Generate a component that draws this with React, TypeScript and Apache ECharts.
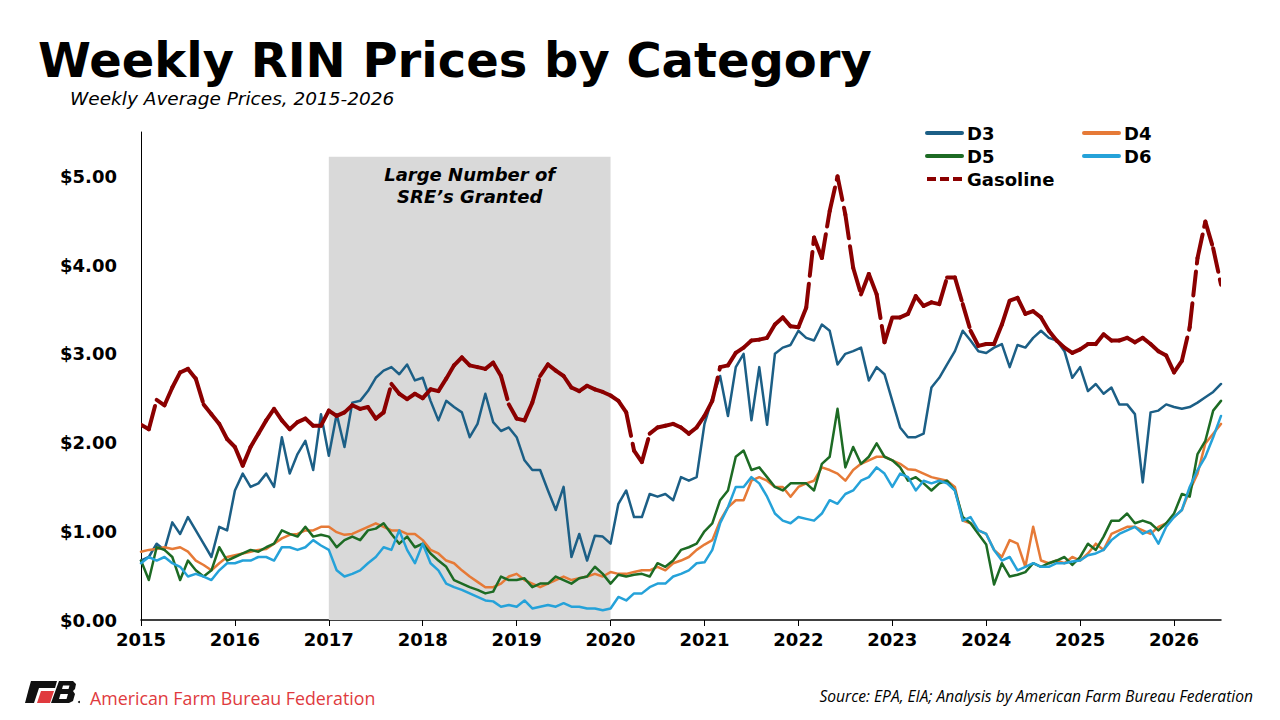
import React, { useEffect, useRef } from "react";
import * as echarts from "echarts";

// Monthly readings, Jan 2015 (index 0) through end of Jun 2026 (index 138)
const START_YEAR = 2015;
const YEARS = [2015, 2016, 2017, 2018, 2019, 2020, 2021, 2022, 2023, 2024, 2025, 2026];
const Y_TICKS = [0, 1, 2, 3, 4, 5];

const d3 = [
  0.67, 0.71, 0.86, 0.79, 1.1, 0.97, 1.16, 1.01, 0.86, 0.71, 1.05, 1.01,
  1.46, 1.65, 1.5, 1.54, 1.65, 1.5, 2.06, 1.65, 1.87, 2.02, 1.69, 2.32,
  1.85, 2.32, 1.95, 2.45, 2.47, 2.58, 2.73, 2.81, 2.85, 2.77, 2.88, 2.7,
  2.73, 2.47, 2.25, 2.47, 2.4, 2.34, 2.06, 2.21, 2.55, 2.23, 2.13, 2.17,
  2.06, 1.8, 1.69, 1.69, 1.46, 1.24, 1.5, 0.71, 0.97, 0.67, 0.95, 0.94,
  0.86, 1.31, 1.46, 1.16, 1.16, 1.42, 1.39, 1.42, 1.35, 1.61, 1.57, 1.61,
  2.21, 2.5, 2.75, 2.3, 2.85, 3.0, 2.25, 2.85, 2.2, 3.0, 3.07, 3.1,
  3.26, 3.18, 3.15, 3.33, 3.26, 2.88, 3.0, 3.03, 3.07, 2.7, 2.85, 2.77,
  2.47, 2.17, 2.06, 2.06, 2.1, 2.62, 2.73, 2.88, 3.03, 3.26, 3.15, 3.03,
  3.01, 3.07, 3.11, 2.85, 3.1, 3.07, 3.18, 3.26, 3.18, 3.15, 3.03, 2.73,
  2.85, 2.58, 2.66, 2.55, 2.62, 2.43, 2.43, 2.32, 1.55, 2.34, 2.36, 2.43,
  2.4, 2.38, 2.4, 2.45, 2.51, 2.57, 2.66,
];

const d4 = [
  0.77, 0.79, 0.8, 0.82, 0.8, 0.82, 0.77, 0.67, 0.62, 0.56, 0.64, 0.71,
  0.73, 0.75, 0.77, 0.79, 0.8, 0.86, 0.92, 0.96, 0.97, 1.01, 1.01, 1.05,
  1.05, 0.99, 0.96, 0.97, 1.01, 1.05, 1.09, 1.05, 1.01, 1.01, 0.97, 0.97,
  0.9, 0.79, 0.75, 0.67, 0.64, 0.56, 0.49, 0.43, 0.37, 0.37, 0.41, 0.49,
  0.52, 0.45, 0.41, 0.37, 0.41, 0.45, 0.49, 0.45, 0.47, 0.49, 0.52, 0.49,
  0.54, 0.52, 0.52, 0.54, 0.56, 0.56, 0.6, 0.56, 0.64, 0.67, 0.71, 0.79,
  0.85, 0.9, 1.12, 1.27, 1.35, 1.35, 1.57, 1.61, 1.57, 1.5, 1.5, 1.39,
  1.5, 1.54, 1.57, 1.72, 1.69, 1.65, 1.57, 1.69, 1.76, 1.8, 1.84, 1.84,
  1.8, 1.76, 1.7, 1.69, 1.65, 1.61, 1.59, 1.57, 1.5, 1.12, 1.09, 1.01,
  0.97, 0.79, 0.71, 0.9, 0.86, 0.6, 1.05, 0.67, 0.64, 0.67, 0.64, 0.71,
  0.67, 0.75, 0.86, 0.79, 0.97, 1.01, 1.05, 1.05, 1.01, 0.97, 1.05, 1.09,
  1.16, 1.24, 1.46, 1.65, 1.99, 2.1, 2.21,
];

const d5 = [
  0.67, 0.45, 0.82, 0.79, 0.71, 0.45, 0.67, 0.56, 0.49, 0.56, 0.82, 0.67,
  0.71, 0.75, 0.79, 0.77, 0.82, 0.86, 1.01, 0.97, 0.94, 1.05, 0.94, 0.96,
  0.94, 0.82, 0.9, 0.94, 0.9, 1.01, 1.03, 1.09, 0.97, 0.86, 0.94, 0.82,
  0.86, 0.75, 0.67, 0.6, 0.45, 0.41, 0.37, 0.34, 0.3, 0.32, 0.49, 0.45,
  0.45, 0.47, 0.37, 0.41, 0.41, 0.49, 0.45, 0.41, 0.47, 0.49, 0.6, 0.52,
  0.41, 0.51, 0.49, 0.51, 0.52, 0.49, 0.64, 0.6, 0.67, 0.79, 0.82, 0.86,
  1.0, 1.09, 1.35, 1.46, 1.84, 1.91, 1.69, 1.72, 1.61, 1.5, 1.46, 1.54,
  1.54, 1.54, 1.46, 1.76, 1.84, 2.38, 1.72, 1.95, 1.76, 1.84, 1.99, 1.84,
  1.8, 1.72, 1.57, 1.61, 1.54, 1.46, 1.54, 1.57, 1.46, 1.16, 1.09, 0.97,
  0.85, 0.4, 0.64, 0.49, 0.51, 0.54, 0.64, 0.6, 0.64, 0.67, 0.71, 0.62,
  0.71, 0.86, 0.79, 0.94, 1.12, 1.12, 1.2, 1.09, 1.12, 1.09, 1.01, 1.09,
  1.2, 1.42, 1.39, 1.87, 2.02, 2.36, 2.47,
];

const d6 = [
  0.64, 0.71, 0.67, 0.71, 0.64, 0.6, 0.49, 0.52, 0.49, 0.45, 0.56, 0.64,
  0.64, 0.67, 0.67, 0.71, 0.71, 0.67, 0.82, 0.82, 0.79, 0.82, 0.9, 0.84,
  0.79, 0.56, 0.49, 0.52, 0.56, 0.64, 0.71, 0.82, 0.79, 1.01, 0.79, 0.64,
  0.86, 0.64, 0.56, 0.41, 0.37, 0.34, 0.3, 0.26, 0.22, 0.21, 0.15, 0.17,
  0.15, 0.22, 0.13, 0.15, 0.17, 0.15, 0.19, 0.15, 0.15, 0.13, 0.13, 0.11,
  0.13, 0.26, 0.22, 0.3, 0.3, 0.37, 0.41, 0.41, 0.49, 0.52, 0.56, 0.64,
  0.65, 0.79, 1.09, 1.27, 1.5, 1.5, 1.61, 1.54, 1.39, 1.2, 1.12, 1.09,
  1.16, 1.14, 1.12, 1.2, 1.35, 1.31, 1.42, 1.46, 1.57, 1.61, 1.72, 1.65,
  1.5, 1.65, 1.61, 1.46, 1.57, 1.54, 1.57, 1.54, 1.46, 1.12, 1.16, 1.01,
  0.97, 0.79, 0.67, 0.71, 0.56, 0.6, 0.64, 0.6, 0.6, 0.64, 0.64, 0.66,
  0.67, 0.73, 0.75, 0.79, 0.9, 0.97, 1.01, 1.05, 0.97, 1.01, 0.86, 1.05,
  1.16, 1.24, 1.5, 1.69, 1.84, 2.06, 2.3,
];

const gasoline = [
  2.2, 2.15, 2.48, 2.42, 2.62, 2.79, 2.83, 2.72, 2.43, 2.32, 2.21, 2.04,
  1.95, 1.74, 1.95, 2.1, 2.25, 2.38, 2.25, 2.15, 2.23, 2.27, 2.19, 2.19,
  2.36, 2.3, 2.34, 2.42, 2.38, 2.4, 2.27, 2.34, 2.66, 2.55, 2.49, 2.55,
  2.5, 2.6, 2.58, 2.72, 2.87, 2.96, 2.87, 2.85, 2.83, 2.9, 2.75, 2.43,
  2.27, 2.25, 2.45, 2.75, 2.88, 2.81, 2.75, 2.62, 2.58, 2.64, 2.6, 2.57,
  2.53, 2.47, 2.34, 1.91, 1.78, 2.1, 2.17, 2.19, 2.21, 2.17, 2.1, 2.17,
  2.3, 2.47, 2.85, 2.87, 3.01, 3.07, 3.15, 3.16, 3.18, 3.33, 3.41, 3.31,
  3.3, 3.52, 4.31, 4.08, 4.61, 5.0, 4.57, 3.97, 3.67, 3.9, 3.67, 3.13,
  3.41, 3.41, 3.45, 3.65, 3.54, 3.58, 3.56, 3.86, 3.86, 3.56, 3.26, 3.09,
  3.11, 3.11, 3.33, 3.6, 3.63, 3.45, 3.48, 3.41, 3.26, 3.15, 3.07, 3.01,
  3.05, 3.11, 3.11, 3.22, 3.15, 3.15, 3.18, 3.13, 3.18, 3.11, 3.03, 2.98,
  2.79, 2.92, 3.3, 4.08, 4.49, 4.19, 3.78,
];

const SRE_START = 2017;
const SRE_END = 2020;
const SRE_TOP = 5.22;

const COLORS = {
  d3: "#1c5f86",
  d4: "#e67a37",
  d5: "#1d6b24",
  d6: "#25a2d9",
  gas: "#8b0000",
};

const FONT = "'DejaVu Sans', Verdana, sans-serif";

const toPairs = (arr: number[]) => arr.map((v, i) => [START_YEAR + i / 12, v]);

export default function App() {
  const ref = useRef<HTMLDivElement>(null);

  useEffect(() => {
    if (!ref.current) return;
    const chart = echarts.init(ref.current, undefined, { renderer: "svg" });

    const lineSeries = (name: string, data: number[], color: string, width: number, extra: any = {}) => ({
      name,
      type: "line",
      data: toPairs(data),
      symbol: "none",
      showSymbol: false,
      smooth: false,
      lineStyle: { color, width, join: "round", cap: "round" },
      itemStyle: { color },
      emphasis: { disabled: true },
      silent: true,
      z: 3,
      ...extra,
    });

    const gasPairs = toPairs(gasoline);

    const legendBase = {
      top: 123,
      padding: 0,
      orient: "vertical",
      itemWidth: 35,
      itemHeight: 14,
      itemGap: 3,
      selectedMode: false,
      itemStyle: { opacity: 0, borderWidth: 0 },
      lineStyle: { width: 4 },
      textStyle: { fontFamily: FONT, fontWeight: "bold", fontSize: 18, color: "#000", lineHeight: 20 },
    };

    const option: any = {
      animation: false,
      backgroundColor: "#ffffff",
      grid: { left: 141, right: 59, top: 132, bottom: 100, containLabel: false },
      xAxis: {
        type: "value",
        min: 2015,
        max: 2026.5,
        interval: 1,
        axisLine: { show: true, lineStyle: { color: "#000", width: 1.5 } },
        axisTick: { show: true, length: 6, inside: false, customValues: YEARS, lineStyle: { color: "#000", width: 1 } },
        axisLabel: {
          customValues: YEARS,
          formatter: (v: number) => String(Math.round(v)),
          fontFamily: FONT,
          fontWeight: "bold",
          fontSize: 18,
          color: "#000",
          margin: 10,
        },
        splitLine: { show: false },
      },
      yAxis: {
        type: "value",
        min: 0,
        max: 5.5,
        interval: 1,
        axisLine: { show: true, lineStyle: { color: "#000", width: 1 } },
        axisTick: { show: false },
        axisLabel: {
          customValues: Y_TICKS,
          formatter: (v: number) => "$" + v.toFixed(2),
          fontFamily: FONT,
          fontWeight: "bold",
          fontSize: 18,
          color: "#000",
          margin: 24,
        },
        splitLine: { show: false },
      },
      legend: [
        {
          ...legendBase,
          left: 925,
          data: [
            { name: "D3" },
            { name: "D5" },
            { name: "Gasoline", lineStyle: { type: [9, 4], width: 4, opacity: 1, color: COLORS.gas, cap: "butt" } },
          ],
        },
        {
          ...legendBase,
          left: 1082,
          data: [{ name: "D4" }, { name: "D6" }],
        },
      ],
      series: [
        lineSeries("D3", d3, COLORS.d3, 2.5, {
          markArea: {
            silent: true,
            z: 1,
            itemStyle: { color: "#d9d9d9" },
            label: {
              show: true,
              position: "insideTop",
              distance: 7,
              formatter: "Large Number of\nSRE\u2019s Granted",
              fontFamily: FONT,
              fontWeight: "bold",
              fontStyle: "italic",
              fontSize: 18,
              lineHeight: 22,
              color: "#000",
              align: "center",
            },
            data: [[{ xAxis: SRE_START, yAxis: 0 }, { xAxis: SRE_END, yAxis: SRE_TOP }]],
          },
        }),
        lineSeries("D4", d4, COLORS.d4, 2.5),
        lineSeries("D5", d5, COLORS.d5, 2.5),
        lineSeries("D6", d6, COLORS.d6, 2.5),
        // Invisible carrier of the legend entry; the visible gasoline line is drawn below
        lineSeries("Gasoline", gasoline, COLORS.gas, 4, {
          lineStyle: { color: COLORS.gas, width: 4, opacity: 0 },
        }),
        {
          name: "GasolineSegments",
          type: "custom",
          silent: true,
          z: 4,
          clip: true,
          data: gasPairs,
          encode: { x: 0, y: 1 },
          renderItem: (params: any, api: any) => {
            const i = params.dataIndex;
            if (i === 0) return null;
            const p0 = api.coord(gasPairs[i - 1]);
            const p1 = api.coord(gasPairs[i]);
            return {
              type: "line",
              shape: { x1: p0[0], y1: p0[1], x2: p1[0], y2: p1[1] },
              style: {
                stroke: COLORS.gas,
                lineWidth: 4,
                lineCap: "round",
                lineDash: [24, 8],
                fill: null,
              },
            };
          },
        },
      ],
      graphic: [
        {
          type: "text",
          x: 38,
          y: 60,
          style: {
            text: "Weekly RIN Prices by Category",
            font: `bold 48px ${FONT}`,
            fill: "#000",
            textAlign: "left",
            textVerticalAlign: "middle",
          },
        },
        {
          type: "text",
          x: 70,
          y: 98,
          style: {
            text: "Weekly Average Prices, 2015-2026",
            font: `italic 18.5px ${FONT}`,
            fill: "#000",
            textAlign: "left",
            textVerticalAlign: "middle",
          },
        },
        // AFBF logo
        { type: "polygon", shape: { points: [[31, 681], [57, 681], [55, 688], [29, 688]] }, style: { fill: "#111" } },
        { type: "polygon", shape: { points: [[29, 688], [39, 688], [34, 703], [25, 703]] }, style: { fill: "#111" } },
        { type: "polygon", shape: { points: [[41, 691], [54, 691], [50, 703], [37, 703]] }, style: { fill: "#e03a3e" } },
        {
          type: "polygon",
          shape: { points: [[59, 681], [73, 681], [76, 684], [75, 689], [73, 691], [75, 694], [73, 701], [69, 703], [51, 703]] },
          style: { fill: "#111" },
        },
        { type: "polygon", shape: { points: [[63, 685.5], [69.5, 685.5], [68.5, 689], [62, 689]] }, style: { fill: "#fff" } },
        { type: "polygon", shape: { points: [[60.5, 694], [68, 694], [66.5, 699], [59, 699]] }, style: { fill: "#fff" } },
        { type: "circle", shape: { cx: 79, cy: 702, r: 1 }, style: { fill: "#111" } },
        {
          type: "text",
          x: 90,
          y: 698,
          style: {
            text: "American Farm Bureau Federation",
            font: "17.8px 'Open Sans', sans-serif",
            fill: "#e03a3e",
            textAlign: "left",
            textVerticalAlign: "middle",
          },
        },
        {
          type: "text",
          x: 1253,
          y: 696,
          style: {
            text: "Source: EPA, EIA; Analysis by American Farm Bureau Federation",
            font: "italic 15.6px 'Open Sans', sans-serif",
            fill: "#000",
            textAlign: "right",
            textVerticalAlign: "middle",
          },
        },
      ],
    };

    chart.setOption(option);
    return () => chart.dispose();
  }, []);

  return (
    <div
      ref={ref}
      style={{ position: "fixed", left: 0, top: 0, width: 1280, height: 720, background: "#fff" }}
    />
  );
}
